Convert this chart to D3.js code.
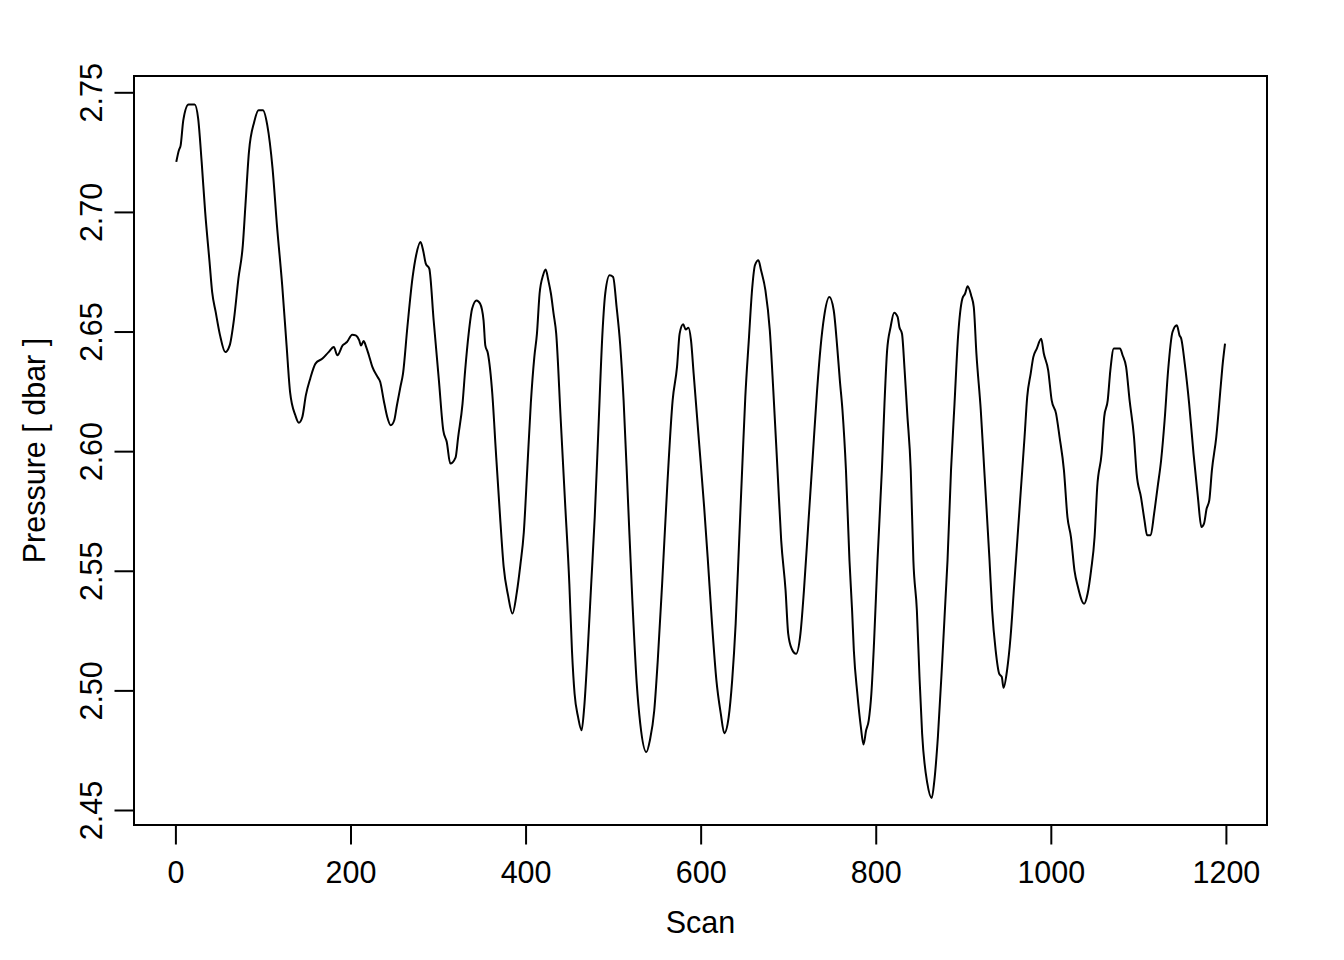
<!DOCTYPE html>
<html>
<head>
<meta charset="utf-8">
<script src="https://cdn.jsdelivr.net/npm/d3@7"></script>
<style>
  html, body { margin: 0; padding: 0; background: #fff; }
  svg { display: block; }
  text { font-family: "Liberation Sans", Arial, Helvetica, sans-serif; fill: #000; }
</style>
</head>
<body>
<svg id="chart" width="1344" height="960"></svg>
<script>
// ---- data ----
const scans = [1,4,6,9,15,22,26,30,34,39,42,46,51,57,62,67,72,77,80,84,90,95,100,105,111,116,122,127,131,137,141,145,149,154,160,168,175,181,185,191,196,202,206,210,212,215,218,221,225,231,234,238,242,246,250,253,257,260,265,271,275,280,283,286,290,295,301,306,310,314,320,323,328,331,335,339,344,348,352,354,357,362,366,371,375,380,385,390,394,398,402,406,410,413,416,420,423,426,429,432,435,440,445,450,453,456,460,464,467,471,475,479,483,488,491,496,500,504,508,512,517,522,527,531,538,542,547,551,556,562,568,573,576,580,583,586,589,592,598,604,608,613,618,623,627,632,636,640,644,648,651,655,659,662,666,669,674,679,683,688,692,697,700,704,709,714,718,723,728,733,737,741,747,752,756,759,762,766,770,773,775,779,783,786,789,792,795,798,802,807,810,813,817,821,825,827,830,833,836,840,843,847,850,853,859,864,867,871,876,880,882,886,890,894,899,902,905,909,912,915,920,924,930,933,937,941,944,946,950,954,958,962,966,970,973,977,980,984,989,992,997,1001,1006,1010,1015,1019,1023,1027,1031,1038,1042,1046,1050,1053,1058,1061,1065,1068,1072,1076,1079,1082,1086,1090,1095,1098,1103,1107,1110,1114,1118,1122,1126,1130,1134,1139,1144,1147,1149,1153,1158,1163,1168,1172,1175,1178,1181,1184,1189,1194,1196,1199];
const pressure = [2.7209,2.7258,2.7278,2.7383,2.7449,2.7449,2.7390,2.7209,2.7000,2.6791,2.6665,2.6582,2.6484,2.6414,2.6442,2.6554,2.6721,2.6860,2.7028,2.7250,2.7376,2.7425,2.7425,2.7362,2.7181,2.6944,2.6693,2.6442,2.6247,2.6150,2.6119,2.6143,2.6233,2.6303,2.6366,2.6387,2.6414,2.6435,2.6401,2.6442,2.6456,2.6487,2.6484,2.6463,2.6442,2.6460,2.6435,2.6401,2.6352,2.6310,2.6289,2.6212,2.6143,2.6108,2.6129,2.6191,2.6268,2.6324,2.6519,2.6728,2.6819,2.6874,2.6839,2.6784,2.6763,2.6547,2.6296,2.6087,2.6038,2.5948,2.5973,2.6059,2.6199,2.6338,2.6491,2.6596,2.6630,2.6617,2.6547,2.6442,2.6408,2.6240,2.6003,2.5719,2.5516,2.5397,2.5321,2.5410,2.5523,2.5661,2.5928,2.6200,2.6393,2.6491,2.6658,2.6735,2.6759,2.6714,2.6658,2.6575,2.6491,2.6143,2.5794,2.5446,2.5167,2.4986,2.4888,2.4833,2.4930,2.5167,2.5446,2.5724,2.6073,2.6505,2.6658,2.6735,2.6728,2.6602,2.6449,2.6212,2.5794,2.5376,2.5028,2.4861,2.4742,2.4791,2.4916,2.5125,2.5446,2.5864,2.6212,2.6352,2.6491,2.6530,2.6508,2.6516,2.6463,2.6324,2.6045,2.5766,2.5557,2.5279,2.5042,2.4903,2.4821,2.4888,2.5042,2.5279,2.5627,2.5975,2.6226,2.6463,2.6686,2.6777,2.6798,2.6756,2.6672,2.6505,2.6254,2.5906,2.5627,2.5418,2.5237,2.5174,2.5153,2.5237,2.5418,2.5697,2.5975,2.6254,2.6435,2.6561,2.6644,2.6589,2.6435,2.6296,2.6171,2.5920,2.5543,2.5334,2.5167,2.4986,2.4847,2.4774,2.4833,2.4875,2.4986,2.5195,2.5543,2.5920,2.6199,2.6421,2.6519,2.6579,2.6561,2.6519,2.6491,2.6338,2.6157,2.5920,2.5543,2.5334,2.5056,2.4819,2.4610,2.4550,2.4624,2.4805,2.5125,2.5404,2.5543,2.5920,2.6199,2.6477,2.6638,2.6658,2.6689,2.6651,2.6602,2.6408,2.6171,2.5920,2.5543,2.5334,2.5167,2.5070,2.5056,2.5011,2.5084,2.5223,2.5432,2.5641,2.5850,2.6059,2.6226,2.6324,2.6393,2.6429,2.6470,2.6408,2.6338,2.6212,2.6157,2.6059,2.5920,2.5724,2.5641,2.5502,2.5432,2.5362,2.5404,2.5502,2.5641,2.5850,2.5990,2.6143,2.6212,2.6338,2.6429,2.6429,2.6429,2.6401,2.6352,2.6212,2.6059,2.5906,2.5808,2.5711,2.5648,2.5648,2.5739,2.5850,2.5962,2.6129,2.6338,2.6498,2.6526,2.6484,2.6470,2.6366,2.6199,2.5990,2.5808,2.5683,2.5697,2.5760,2.5794,2.5920,2.6059,2.6268,2.6352,2.6449];
const xTicks = [0, 200, 400, 600, 800, 1000, 1200];
const yTicks = [2.45, 2.50, 2.55, 2.60, 2.65, 2.70, 2.75];
const xLabel = "Scan";
const yLabel = "Pressure [ dbar ]";

// ---- layout ----
const frame = { left: 134, right: 1267, top: 76, bottom: 825 };
const fontSize = 30.5;
const lw = 2;
const tick = 19.5;

const svg = d3.select("#chart");
const x = d3.scaleLinear().domain([0, 1200]).range([175.4, 1225.9]);
const y = d3.scaleLinear().domain([2.45, 2.75]).range([810, 92.3]);

// plot frame
svg.append("rect")
  .attr("x", frame.left).attr("y", frame.top)
  .attr("width", frame.right - frame.left)
  .attr("height", frame.bottom - frame.top)
  .attr("fill", "none").attr("stroke", "#000").attr("stroke-width", lw);

// line
const pts = scans.map((s, i) => [s, pressure[i]]);
svg.append("path")
  .datum(pts)
  .attr("fill", "none")
  .attr("stroke", "#000")
  .attr("stroke-width", lw)
  .attr("stroke-linejoin", "round")
  .attr("d", d3.line().curve(d3.curveMonotoneX).x(d => x(d[0])).y(d => y(d[1])));

// x axis
const gx = svg.append("g")
  .attr("transform", `translate(0,${frame.bottom})`)
  .call(d3.axisBottom(x).tickValues(xTicks).tickSize(tick).tickSizeOuter(0).tickFormat(d3.format("d")));
gx.select(".domain").attr("stroke-width", lw).attr("d", `M${x(xTicks[0])},0H${x(xTicks[xTicks.length-1])}`);
gx.selectAll(".tick line").attr("stroke-width", lw);
gx.selectAll(".tick text")
  .attr("y", 883 - frame.bottom).attr("dy", null)
  .style("font-size", fontSize + "px")
  .style("font-family", "'Liberation Sans', Arial, Helvetica, sans-serif")
  .attr("fill", "#000");

// y axis
const gy = svg.append("g")
  .attr("transform", `translate(${frame.left},0)`)
  .call(d3.axisLeft(y).tickValues(yTicks).tickSize(tick).tickSizeOuter(0).tickFormat(d3.format(".2f")));
gy.select(".domain").attr("stroke-width", lw).attr("d", `M0,${y(yTicks[0])}V${y(yTicks[yTicks.length-1])}`);
gy.selectAll(".tick line").attr("stroke-width", lw);
gy.selectAll(".tick text")
  .attr("x", null).attr("dy", null)
  .attr("text-anchor", "middle")
  .attr("transform", `translate(${101.7 - frame.left},0) rotate(-90)`)
  .style("font-size", fontSize + "px")
  .style("font-family", "'Liberation Sans', Arial, Helvetica, sans-serif")
  .attr("fill", "#000");

// axis titles
svg.append("text")
  .attr("x", (frame.left + frame.right) / 2).attr("y", 933)
  .attr("text-anchor", "middle")
  .style("font-size", fontSize + "px")
  .text(xLabel);

svg.append("text")
  .attr("transform", `translate(45,${(frame.top + frame.bottom) / 2}) rotate(-90)`)
  .attr("text-anchor", "middle")
  .style("font-size", fontSize + "px")
  .text(yLabel);
</script>
</body>
</html>
